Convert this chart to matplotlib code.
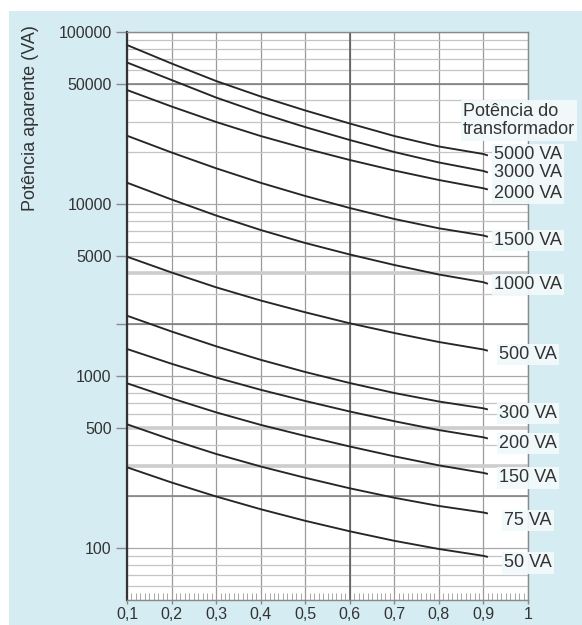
import matplotlib
matplotlib.use("Agg")
import matplotlib.pyplot as plt
from matplotlib.patches import Rectangle
from matplotlib.ticker import LogLocator, FixedLocator, MultipleLocator, NullFormatter
import numpy as np

plt.rcParams['font.family'] = ['Liberation Sans', 'DejaVu Sans']

# ---- data ----
fator = [0.1, 0.2, 0.3, 0.4, 0.5, 0.6, 0.7, 0.8, 0.9, 0.91]
labels = ["5000 VA", "3000 VA", "2000 VA", "1500 VA", "1000 VA",
          "500 VA", "300 VA", "200 VA", "150 VA", "75 VA", "50 VA"]
s5000 = [84000, 65600, 51900, 42200, 35000, 29390, 24860, 21610, 19540, 19150]
s3000 = [66500, 52600, 41600, 33800, 28000, 23570, 20070, 17450, 15570, 15260]
s2000 = [46000, 36900, 30000, 24860, 21040, 18040, 15670, 13800, 12350, 12150]
s1500 = [24960, 19940, 16140, 13290, 11140, 9488, 8189, 7231, 6568, 6454]
s1000 = [13310, 10630, 8580, 7068, 5940, 5093, 4425, 3896, 3515, 3441]
s500 = [4945, 4002, 3283, 2752, 2350, 2028, 1781, 1579, 1428, 1404]
s300 = [2245, 1817, 1491, 1244, 1057, 912, 798, 712, 650, 640]
s200 = [1438, 1180, 982, 833, 717, 623, 547, 486, 441, 434]
s150 = [909, 743, 616, 521, 449, 390, 342, 303, 274, 270]
s75 = [525, 427, 353, 298.5, 256.6, 222.9, 196.4, 176, 161.3, 159.1]
s50 = [295.3, 240.9, 199.8, 168.5, 144.3, 125.4, 110.4, 98.95, 90.3, 88.9]
series = [s5000, s3000, s2000, s1500, s1000, s500, s300, s200, s150, s75, s50]

ytick_vals = [100, 500, 1000, 2000, 5000, 10000, 50000, 100000]
ytick_labels = ["100", "500", "1000", "", "5000", "10000", "50000", "100000"]
xtick_vals = [0.1, 0.2, 0.3, 0.4, 0.5, 0.6, 0.7, 0.8, 0.9, 1.0]
xtick_labels = ["0,1", "0,2", "0,3", "0,4", "0,5", "0,6", "0,7", "0,8", "0,9", "1"]

# label vertical offsets (pixels) relative to curve ends
label_dy = [1, 0, -4, -4, -1, -4, -4, -5, -4, -7, -6]

W, H = 582, 625
fig = plt.figure(figsize=(W / 100, H / 100), dpi=100)
fig.patch.set_facecolor("white")
blue = "#d5ecf2"
fig.add_artist(Rectangle((9 / W, 0), 1, 1 - 11 / H, transform=fig.transFigure,
                         facecolor=blue, edgecolor="none", zorder=0))

ax = fig.add_axes([127 / W, 1 - 600 / H, (528 - 127) / W, (600 - 32) / H])
ax.set_facecolor("white")
ax.set_yscale("log")
ax.set_xlim(0.1, 1.0)
ax.set_ylim(50, 100000)
ax.set_axisbelow(True)

# y ticks
ax.yaxis.set_major_locator(FixedLocator(ytick_vals))
ax.set_yticklabels(ytick_labels)
ax.yaxis.set_minor_locator(LogLocator(base=10, subs=np.arange(2, 10)))
ax.yaxis.set_minor_formatter(NullFormatter())
ax.tick_params(axis="y", which="major", direction="out", length=8, width=1,
               color="#8a8a8a", labelsize=11.5, labelcolor="#333333", pad=3)
ax.tick_params(axis="y", which="minor", length=0)

# x ticks
ax.set_xticks(xtick_vals)
ax.set_xticklabels(xtick_labels)
ax.xaxis.set_minor_locator(MultipleLocator(0.01))
ax.tick_params(axis="x", which="major", direction="out", length=3, width=1,
               color="#8a8a8a", labelsize=11.5, labelcolor="#333333", pad=2)
ax.tick_params(axis="x", which="minor", direction="in", length=5, width=0.6,
               color="#999999")

# grid
ax.grid(axis="x", which="major", color="#9a9a9a", lw=0.9)
ax.grid(axis="y", which="major", color="#a8a8a8", lw=0.9)
ax.grid(axis="y", which="minor", color="#c4c4c4", lw=0.9)
ax.axvline(0.6, color="#555555", lw=1.1, zorder=1)
for v in [50000, 2000, 200]:
    ax.axhline(v, color="#7a7a7a", lw=1.1, zorder=1)
for v in [4000, 500, 300]:
    ax.axhline(v, color="#cdcdcd", lw=2.6, zorder=0.9)

# spines
ax.spines["left"].set_color("#333333")
ax.spines["left"].set_linewidth(1.6)
for s in ["top", "right", "bottom"]:
    ax.spines[s].set_color("#8a8a8a")
    ax.spines[s].set_linewidth(1.0)

# curves
for ys in series:
    ax.plot(fator, ys, color="#262626", lw=1.35, zorder=3, solid_capstyle="butt",
            solid_joinstyle="round")

box = dict(boxstyle="square,pad=0.12", facecolor="#f2f9fb", edgecolor="none", alpha=0.95)
for ys, lab, dy in zip(series, labels, label_dy):
    ax.annotate(lab, xy=(1.0, ys[-1]), xytext=(0, dy), textcoords="offset pixels",
                ha="center", va="center", fontsize=13, color="#333333",
                bbox=box, annotation_clip=False, zorder=4)

ax.text(0.854, 30600, "Potência do\ntransformador", ha="left", va="center",
        fontsize=13, color="#333333", linespacing=1.15, bbox=box, clip_on=False,
        zorder=4)

fig.text(31 / W, 1 - 118 / H, "Potência aparente (VA)", rotation=90,
         ha="center", va="center", fontsize=13, color="#333333")

fig.savefig("out.png", dpi=100)
